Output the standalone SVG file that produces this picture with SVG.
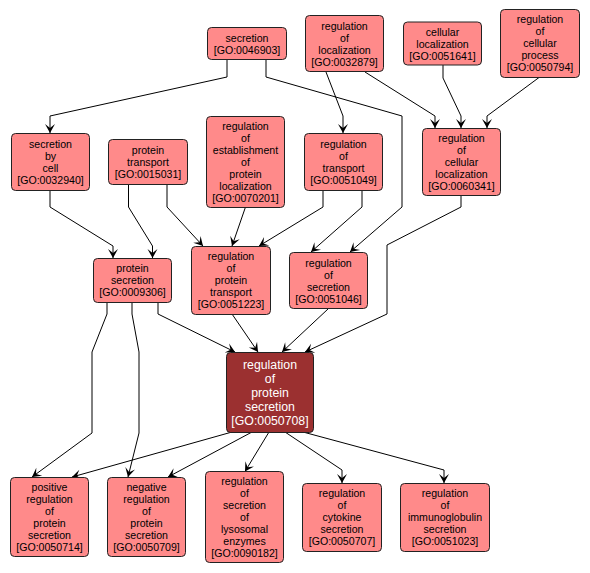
<svg xmlns="http://www.w3.org/2000/svg" width="590" height="573" viewBox="0 0 590 573">
<style>
.n rect{fill:#FF8A8A;stroke:#222;stroke-width:1}
.n text{font-family:"Liberation Sans",Arial,sans-serif;font-size:10.6px;fill:#000;text-anchor:middle}
.m rect{fill:#9B3030;stroke:#222;stroke-width:1}
.m text{font-family:"Liberation Sans",Arial,sans-serif;font-size:12.3px;fill:#fff;text-anchor:middle}
#edges polyline{fill:none;stroke:#000;stroke-width:1;marker-end:url(#ah)}
</style>
<defs>
<marker id="ah" markerUnits="userSpaceOnUse" markerWidth="12" markerHeight="12" refX="0" refY="0" viewBox="-10 -6 12 12" orient="auto">
<path d="M0,0 L-9,-5 L-5,0 L-9,5 z" fill="#000"/>
</marker>
</defs>
<rect width="590" height="573" fill="#fff"/>
<g id="edges">
<polyline points="227,59.5 227,77 50,116 50,133"/>
<polyline points="266,59.5 266,77 402,116 402,207 350,252"/>
<polyline points="326,72 343,116 343,133"/>
<polyline points="365,72 435,116 435,128"/>
<polyline points="443,65 443,78 461,116 461,128"/>
<polyline points="539,77.5 487,116 487,128"/>
<polyline points="50,190 50,207 113,246 113,258"/>
<polyline points="128.5,184 128.5,207 152.5,246 152.5,258"/>
<polyline points="167,184 167,207 203,246"/>
<polyline points="245.5,207 232,246"/>
<polyline points="323,190 323,207 259,246"/>
<polyline points="362,190 362,207 311,252"/>
<polyline points="461,195 461,207 387,245 387,314 305,352"/>
<polyline points="158,302 158,314 235,352"/>
<polyline points="232,314 258,352"/>
<polyline points="328,309 282,352"/>
<polyline points="107,302 107,314 92,352 92,433 32,477"/>
<polyline points="132,302 132,314 139,352 139,433 128,477"/>
<polyline points="232,432 72,477"/>
<polyline points="252,432 168,477"/>
<polyline points="269,432 245,471.5"/>
<polyline points="285,432 342,470 342,483"/>
<polyline points="303,432 444,470 444,483"/>
</g>
<g id="GO0046903" class="n"><rect x="207.5" y="27.5" width="79" height="32" rx="4"/><text x="247" y="41.5">secretion<tspan x="247" dy="12">[GO:0046903]</tspan></text></g>
<g id="GO0032879" class="n"><rect x="305.5" y="15.5" width="78" height="56" rx="4"/><text x="344.5" y="29.5">regulation<tspan x="344.5" dy="12">of</tspan><tspan x="344.5" dy="12">localization</tspan><tspan x="344.5" dy="12">[GO:0032879]</tspan></text></g>
<g id="GO0051641" class="n"><rect x="403.5" y="22" width="78" height="43" rx="4"/><text x="442.5" y="35.5">cellular<tspan x="442.5" dy="12">localization</tspan><tspan x="442.5" dy="12">[GO:0051641]</tspan></text></g>
<g id="GO0050794" class="n"><rect x="500.5" y="9.5" width="79" height="68" rx="4"/><text x="540" y="23">regulation<tspan x="540" dy="12">of</tspan><tspan x="540" dy="12">cellular</tspan><tspan x="540" dy="12">process</tspan><tspan x="540" dy="12">[GO:0050794]</tspan></text></g>
<g id="GO0032940" class="n"><rect x="11.5" y="133.5" width="78" height="57" rx="4"/><text x="50.5" y="147.5">secretion<tspan x="50.5" dy="12">by</tspan><tspan x="50.5" dy="12">cell</tspan><tspan x="50.5" dy="12">[GO:0032940]</tspan></text></g>
<g id="GO0015031" class="n"><rect x="108.5" y="139.5" width="79" height="45" rx="4"/><text x="148" y="153.5">protein<tspan x="148" dy="12">transport</tspan><tspan x="148" dy="12">[GO:0015031]</tspan></text></g>
<g id="GO0070201" class="n"><rect x="206.5" y="116.5" width="78" height="91" rx="4"/><text x="245.5" y="129.5">regulation<tspan x="245.5" dy="12">of</tspan><tspan x="245.5" dy="12">establishment</tspan><tspan x="245.5" dy="12">of</tspan><tspan x="245.5" dy="12">protein</tspan><tspan x="245.5" dy="12">localization</tspan><tspan x="245.5" dy="12">[GO:0070201]</tspan></text></g>
<g id="GO0051049" class="n"><rect x="304.5" y="133.5" width="78" height="57" rx="4"/><text x="343.5" y="147.5">regulation<tspan x="343.5" dy="12">of</tspan><tspan x="343.5" dy="12">transport</tspan><tspan x="343.5" dy="12">[GO:0051049]</tspan></text></g>
<g id="GO0060341" class="n"><rect x="422.5" y="128.5" width="78" height="67" rx="4"/><text x="461.5" y="141.5">regulation<tspan x="461.5" dy="12">of</tspan><tspan x="461.5" dy="12">cellular</tspan><tspan x="461.5" dy="12">localization</tspan><tspan x="461.5" dy="12">[GO:0060341]</tspan></text></g>
<g id="GO0009306" class="n"><rect x="93.5" y="258.5" width="78" height="44" rx="4"/><text x="132.5" y="272">protein<tspan x="132.5" dy="12">secretion</tspan><tspan x="132.5" dy="12">[GO:0009306]</tspan></text></g>
<g id="GO0051223" class="n"><rect x="191.5" y="246.5" width="79" height="68" rx="4"/><text x="231" y="260">regulation<tspan x="231" dy="12">of</tspan><tspan x="231" dy="12">protein</tspan><tspan x="231" dy="12">transport</tspan><tspan x="231" dy="12">[GO:0051223]</tspan></text></g>
<g id="GO0051046" class="n"><rect x="289.5" y="252.5" width="78" height="56" rx="4"/><text x="328.5" y="266.5">regulation<tspan x="328.5" dy="12">of</tspan><tspan x="328.5" dy="12">secretion</tspan><tspan x="328.5" dy="12">[GO:0051046]</tspan></text></g>
<g id="GO0050708" class="m"><rect x="226.5" y="352.5" width="87" height="80" rx="4"/><text x="270" y="368.5">regulation<tspan x="270" dy="14">of</tspan><tspan x="270" dy="14">protein</tspan><tspan x="270" dy="14">secretion</tspan><tspan x="270" dy="14">[GO:0050708]</tspan></text></g>
<g id="GO0050714" class="n"><rect x="10.5" y="477.5" width="78" height="79" rx="4"/><text x="49.5" y="490.5">positive<tspan x="49.5" dy="12">regulation</tspan><tspan x="49.5" dy="12">of</tspan><tspan x="49.5" dy="12">protein</tspan><tspan x="49.5" dy="12">secretion</tspan><tspan x="49.5" dy="12">[GO:0050714]</tspan></text></g>
<g id="GO0050709" class="n"><rect x="107.5" y="477.5" width="78" height="79" rx="4"/><text x="146.5" y="490.5">negative<tspan x="146.5" dy="12">regulation</tspan><tspan x="146.5" dy="12">of</tspan><tspan x="146.5" dy="12">protein</tspan><tspan x="146.5" dy="12">secretion</tspan><tspan x="146.5" dy="12">[GO:0050709]</tspan></text></g>
<g id="GO0090182" class="n"><rect x="205.5" y="471.5" width="78" height="91" rx="4"/><text x="244.5" y="485">regulation<tspan x="244.5" dy="12">of</tspan><tspan x="244.5" dy="12">secretion</tspan><tspan x="244.5" dy="12">of</tspan><tspan x="244.5" dy="12">lysosomal</tspan><tspan x="244.5" dy="12">enzymes</tspan><tspan x="244.5" dy="12">[GO:0090182]</tspan></text></g>
<g id="GO0050707" class="n"><rect x="302.5" y="483.5" width="79" height="68" rx="4"/><text x="342" y="497">regulation<tspan x="342" dy="12">of</tspan><tspan x="342" dy="12">cytokine</tspan><tspan x="342" dy="12">secretion</tspan><tspan x="342" dy="12">[GO:0050707]</tspan></text></g>
<g id="GO0051023" class="n"><rect x="400.5" y="483.5" width="89" height="68" rx="4"/><text x="445" y="497">regulation<tspan x="445" dy="12">of</tspan><tspan x="445" dy="12">immunoglobulin</tspan><tspan x="445" dy="12">secretion</tspan><tspan x="445" dy="12">[GO:0051023]</tspan></text></g>
</svg>
